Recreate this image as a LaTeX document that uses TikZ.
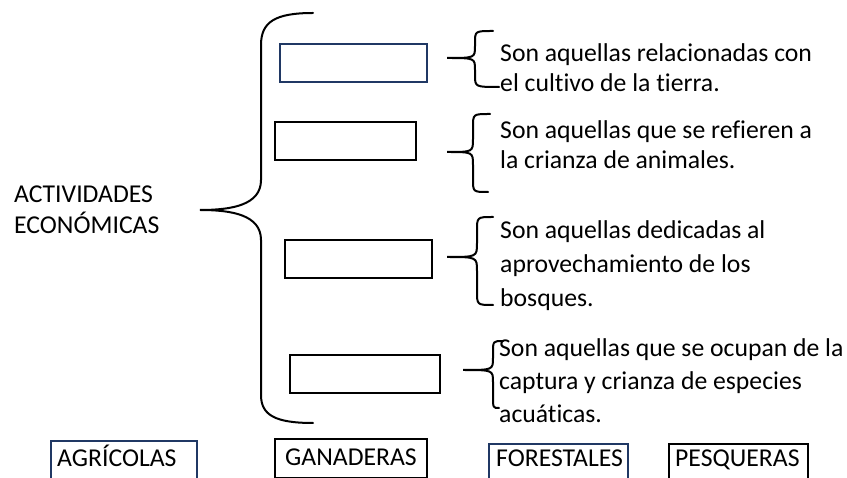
\documentclass[tikz,border=0pt]{standalone}
\usepackage{fontspec}
\setmainfont[Ligatures={NoCommon}]{Carlito}
\definecolor{navy}{HTML}{203864}
\begin{document}
\begin{tikzpicture}[x=1pt,y=-1pt,
  txt/.style={anchor=base west,inner sep=0pt,font=\fontsize{25.7}{30}\selectfont},
  emptybox/.style={draw=black,line width=2pt,anchor=north west,inner sep=0pt},
  bluebox/.style={emptybox,draw=navy},
  brace/.style={line width=2pt,line cap=round}]
\clip (0,0) rectangle (847,478);
\fill[white] (0,0) rectangle (847,478);
% left title
\node[txt] (t1) at (14,203) {ACTIVIDADES};
\node[txt] (t2) at (14,234) {ECONÓMICAS};
% big brace
\draw[brace] (313,13) .. controls (275,13) and (261,22) .. (261,45) -- (261,180)
  .. controls (261,205) and (232,210) .. (200,210)
  .. controls (232,210) and (261,215) .. (261,240) -- (261,395)
  .. controls (261,415) and (275,423) .. (313,423);
% empty boxes
\node[bluebox,minimum width=147pt,minimum height=38pt] (b1) at (279,43) {};
\node[emptybox,minimum width=141pt,minimum height=38pt] (b2) at (274,121) {};
\node[emptybox,minimum width=147pt,minimum height=38pt] (b3) at (284,239) {};
\node[emptybox,minimum width=150pt,minimum height=38pt] (b4) at (289,354) {};
% small braces
\newcommand{\sbrace}[8]{%
  \draw[brace] (#1,#2) .. controls (#3,#2) .. (#3,#2+#8) -- (#3,#5-#8)
    .. controls (#3,#5) .. (#4,#5) .. controls (#3,#5) .. (#3,#5+#8)
    -- (#3,#6-#8) .. controls (#3,#6) .. (#7,#6);}
\sbrace{493}{31}{475}{447}{58}{87}{499}{12}
\sbrace{490}{114}{473}{447}{152}{192}{488}{13}
\sbrace{493}{217}{477}{447}{257}{305}{493}{14}
\sbrace{503}{341}{493}{463}{370}{408}{499}{12}
% descriptions
\node[txt] (d1a) at (500,62) {Son aquellas relacionadas con};
\node[txt] (d1b) at (500,92) {el cultivo de la tierra.};
\node[txt] (d2a) at (500,139) {Son aquellas que se refieren a};
\node[txt] (d2b) at (500,169) {la crianza de animales.};
\node[txt] (d3a) at (500,239) {Son aquellas dedicadas al};
\node[txt] (d3b) at (500,273) {aprovechamiento de los};
\node[txt] (d3c) at (500,307) {bosques.};
\node[txt] (d4a) at (499,357) {Son aquellas que se ocupan de la};
\node[txt] (d4b) at (499,390) {captura y crianza de especies};
\node[txt] (d4c) at (499,423) {acuáticas.};
% bottom labels
\node[bluebox,minimum width=146pt,minimum height=50pt] (l1) at (50,440) {};
\node[txt] (l1t) at (57,467) {AGRÍCOLAS};
\node[emptybox,minimum width=152pt,minimum height=39pt] (l2) at (274,438) {};
\node[txt] (l2t) at (285,466) {GANADERAS};
\node[bluebox,minimum width=139pt,minimum height=50pt] (l3) at (488,443) {};
\node[txt] (l3t) at (496,467) {FORESTALES};
\node[emptybox,minimum width=139pt,minimum height=50pt] (l4) at (668,443) {};
\node[txt] (l4t) at (675,467) {PESQUERAS};
\end{tikzpicture}
\end{document}
